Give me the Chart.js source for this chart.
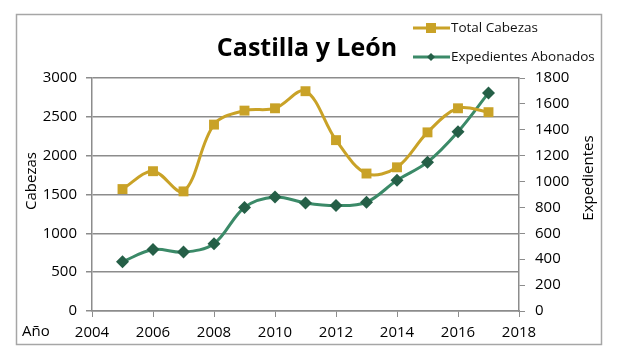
<!DOCTYPE html>
<html lang="es">
<head>
<meta charset="UTF-8">
<title>Castilla y León</title>
<script src="https://cdn.jsdelivr.net/npm/chart.js"></script>
<style>
    html, body { margin: 0; padding: 0; background: #fff; }
    #wrap { width: 618px; height: 353px; }
</style>
</head>
<body>
<div id="wrap"><canvas id="chart" width="618" height="353"></canvas></div>
<script>
// Datos
const years = [2005, 2006, 2007, 2008, 2009, 2010, 2011, 2012, 2013, 2014, 2015, 2016, 2017];
const totalCabezas = [1570, 1800, 1540, 2400, 2580, 2610, 2830, 2200, 1770, 1850, 2300, 2610, 2560];
const expedientes = [380, 475, 455, 520, 800, 880, 835, 815, 840, 1010, 1150, 1385, 1685];
const xTicks = [2004, 2006, 2008, 2010, 2012, 2014, 2016, 2018];
const leftTicks = [0, 500, 1000, 1500, 2000, 2500, 3000];
const rightTicks = [0, 200, 400, 600, 800, 1000, 1200, 1400, 1600, 1800];

const GOLD = '#c9a227';
const GREEN = '#3b8a68';
const GREEN_DARK = '#255f47';
const FONT = '"Open Sans", sans-serif';

// Marco, título, leyenda y títulos de ejes
const decor = {
    id: 'decor',
    beforeDraw(chart) {
        const ctx = chart.ctx;
        ctx.save();
        ctx.strokeStyle = '#a6a6a6';
        ctx.lineWidth = 1.5;
        ctx.strokeRect(16.5, 14.5, 585, 330);
        ctx.restore();
    },
    afterDraw(chart) {
        const ctx = chart.ctx;
        ctx.save();
        ctx.fillStyle = '#000';
        ctx.font = 'bold 25px ' + FONT;
        ctx.textAlign = 'center';
        ctx.textBaseline = 'alphabetic';
        ctx.fillText('Castilla y León', 307, 56);

        // leyenda
        const items = [
            { text: 'Total Cabezas', color: GOLD, marker: 'rect', y: 28 },
            { text: 'Expedientes Abonados', color: GREEN, marker: 'diamond', y: 57 }
        ];
        items.forEach(it => {
            ctx.strokeStyle = it.color;
            ctx.lineWidth = 3;
            ctx.beginPath();
            ctx.moveTo(413, it.y);
            ctx.lineTo(450, it.y);
            ctx.stroke();
            if (it.marker === 'rect') {
                ctx.fillStyle = GOLD;
                ctx.fillRect(426, it.y - 5, 10, 10);
            } else {
                ctx.fillStyle = GREEN_DARK;
                ctx.beginPath();
                ctx.moveTo(431, it.y - 4);
                ctx.lineTo(435, it.y);
                ctx.lineTo(431, it.y + 4);
                ctx.lineTo(427, it.y);
                ctx.closePath();
                ctx.fill();
            }
            ctx.fillStyle = '#111';
            ctx.font = '13.5px ' + FONT;
            ctx.textAlign = 'left';
            ctx.textBaseline = 'middle';
            ctx.fillText(it.text, 451, it.y);
        });

        // títulos de ejes
        ctx.fillStyle = '#000';
        ctx.font = '15px ' + FONT;
        ctx.textAlign = 'center';
        ctx.textBaseline = 'middle';
        ctx.save();
        ctx.translate(32, 181);
        ctx.rotate(-Math.PI / 2);
        ctx.fillText('Cabezas', 0, 0);
        ctx.restore();
        ctx.save();
        ctx.translate(589, 178);
        ctx.rotate(-Math.PI / 2);
        ctx.fillText('Expedientes', 0, 0);
        ctx.restore();
        ctx.textAlign = 'left';
        ctx.fillText('Año', 22, 332);
        ctx.restore();
    }
};

const tickFont = { family: FONT, size: 15 };
const plain = v => String(v);

new Chart(document.getElementById('chart'), {
    type: 'line',
    data: {
        labels: years,
        datasets: [
            {
                label: 'Total Cabezas',
                data: years.map((y, i) => ({ x: y, y: totalCabezas[i] })),
                yAxisID: 'y',
                borderColor: GOLD,
                backgroundColor: GOLD,
                borderWidth: 3,
                pointStyle: 'rect',
                pointRadius: 7,
                pointBorderWidth: 0,
                tension: 0.35
            },
            {
                label: 'Expedientes Abonados',
                data: years.map((y, i) => ({ x: y, y: expedientes[i] })),
                yAxisID: 'y1',
                borderColor: GREEN,
                backgroundColor: GREEN_DARK,
                borderWidth: 3,
                pointStyle: 'rectRot',
                pointRadius: 6.5,
                pointBorderWidth: 0,
                tension: 0.35
            }
        ]
    },
    options: {
        responsive: false,
        animation: false,
        layout: { padding: { left: 16, right: 0, top: 78, bottom: 10 } },
        plugins: { legend: { display: false }, title: { display: false }, tooltip: { enabled: false } },
        scales: {
            x: {
                type: 'linear',
                min: 2004,
                max: 2018,
                afterBuildTicks: s => { s.ticks = xTicks.map(v => ({ value: v })); },
                ticks: { font: tickFont, color: '#000', padding: 7, maxRotation: 0, callback: plain },
                grid: { display: true, drawOnChartArea: false, tickLength: 6, color: '#8c8c8c' },
                border: { color: '#8c8c8c', width: 1.5 },
                afterFit: s => { s.height = 32; }
            },
            y: {
                position: 'left',
                min: 0,
                max: 3000,
                afterBuildTicks: s => { s.ticks = leftTicks.map(v => ({ value: v })); },
                ticks: { font: tickFont, color: '#000', padding: 9, callback: plain },
                grid: { color: '#8c8c8c', lineWidth: 1.5, tickLength: 6 },
                border: { color: '#8c8c8c', width: 1.5 },
                afterFit: s => { s.width = 76; }
            },
            y1: {
                position: 'right',
                min: 0,
                max: 1800,
                afterBuildTicks: s => { s.ticks = rightTicks.map(v => ({ value: v })); },
                ticks: { font: tickFont, color: '#000', padding: 10, callback: plain },
                grid: { drawOnChartArea: false, color: '#8c8c8c', tickLength: 6 },
                border: { color: '#8c8c8c', width: 1.5 },
                afterFit: s => { s.width = 99; }
            }
        }
    },
    plugins: [decor]
});
</script>
</body>
</html>
